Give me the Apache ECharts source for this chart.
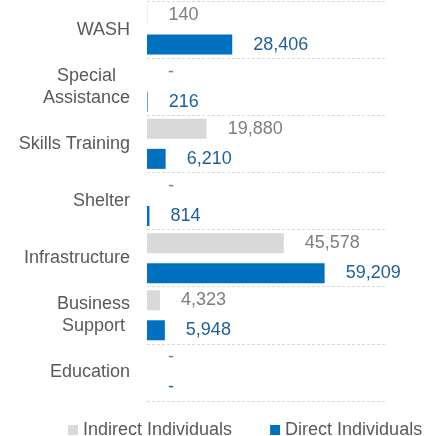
<!DOCTYPE html>
<html>
<head>
<meta charset="utf-8">
<script src="https://cdn.jsdelivr.net/npm/echarts@6/dist/echarts.min.js"></script>
<style>
html,body{margin:0;padding:0;background:#fff;overflow:hidden;}
#chart{width:431px;height:436px;}
</style>
</head>
<body>
<div id="chart"></div>
<script>
var categories = ['WASH', 'Special\nAssistance', 'Skills Training', 'Shelter', 'Infrastructure', 'Business\nSupport', 'Education'];
var indirectValues = [140, 0, 19880, 0, 45578, 4323, 0];
var directValues = [28406, 216, 6210, 814, 59209, 5948, 0];
var seriesNames = ['Indirect Individuals', 'Direct Individuals'];

var FONT = '"Liberation Sans", Arial, sans-serif';
function fmt(p) { return p.value === 0 ? '-' : p.value.toLocaleString('en-US'); }

var chart = echarts.init(document.getElementById('chart'));
chart.setOption({
  animation: false,
  grid: { left: 147, right: 44, top: 1, bottom: 35, containLabel: false, outerBoundsMode: 'none' },
  legend: {
    left: 63, top: 416,
    itemWidth: 10, itemHeight: 10, itemGap: 38,
    icon: 'rect',
    textStyle: { fontSize: 18, color: '#595959', fontFamily: FONT },
    data: seriesNames
  },
  xAxis: {
    type: 'value', min: 0, max: 80000, show: false
  },
  yAxis: {
    type: 'category',
    inverse: true,
    data: categories,
    axisLine: { show: false },
    axisTick: { show: false },
    splitLine: { show: true, interval: 0, lineStyle: { color: '#d9d9d9', type: [3, 2], width: 1 } },
    axisLabel: {
      margin: 17,
      fontSize: 18,
      color: '#595959',
      fontFamily: FONT,
      formatter: function (v) {
        if (v.indexOf('\n') < 0) return v;
        return v.split('\n').map(function (s) { return '{c|' + s + '}'; }).join('\n');
      },
      rich: { c: { align: 'center', fontSize: 18, color: '#595959', fontFamily: FONT, lineHeight: 22 } }
    }
  },
  series: [
    {
      name: seriesNames[0], type: 'bar', data: indirectValues,
      barWidth: 20, barGap: '50%',
      itemStyle: { color: '#d9d9d9' },
      label: { show: true, position: 'right', distance: 21, fontSize: 18, color: '#7f7f7f', fontFamily: FONT, formatter: fmt }
    },
    {
      name: seriesNames[1], type: 'bar', data: directValues,
      barWidth: 20, barGap: '50%',
      itemStyle: { color: '#0070c0' },
      label: { show: true, position: 'right', distance: 21, fontSize: 18, color: '#1e5f9c', fontFamily: FONT, formatter: fmt }
    }
  ]
});
</script>
</body>
</html>
